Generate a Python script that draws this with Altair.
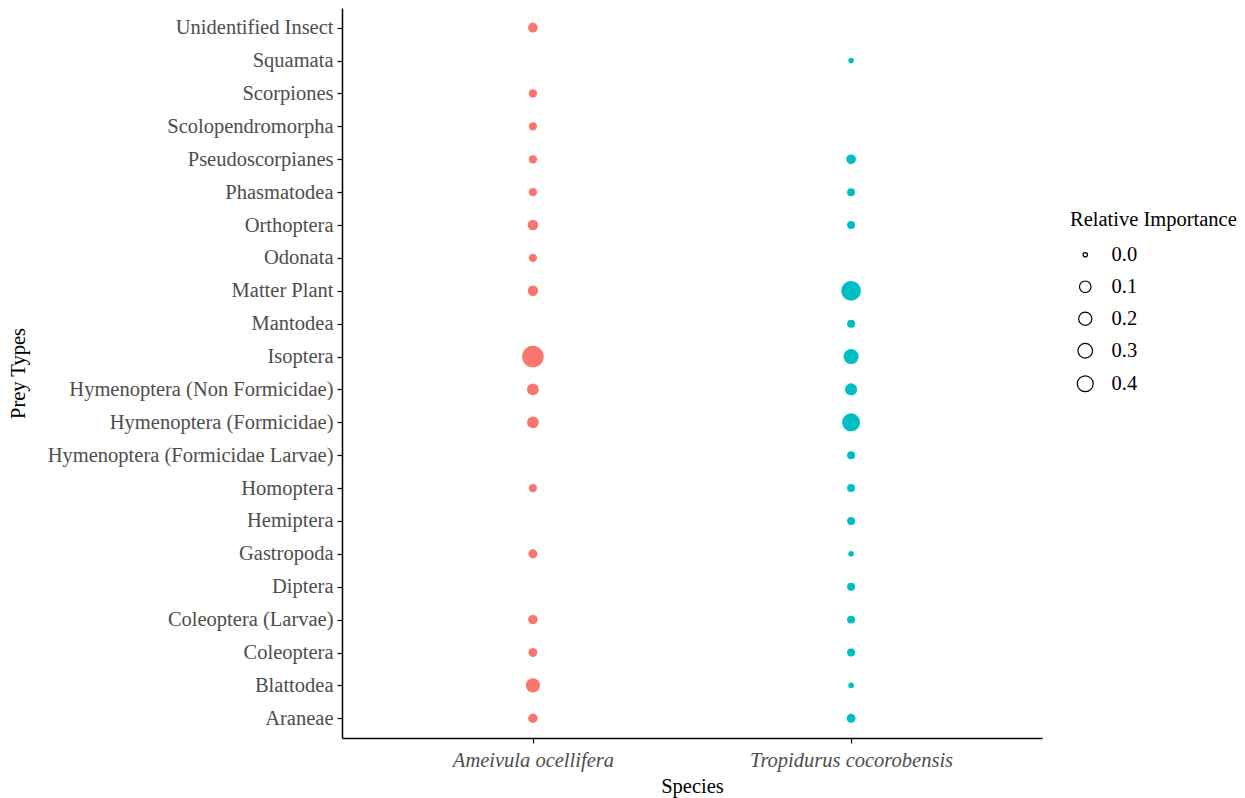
import altair as alt
import pandas as pd

prey = [
    "Unidentified Insect", "Squamata", "Scorpiones", "Scolopendromorpha",
    "Pseudoscorpianes", "Phasmatodea", "Orthoptera", "Odonata", "Matter Plant",
    "Mantodea", "Isoptera", "Hymenoptera (Non Formicidae)", "Hymenoptera (Formicidae)",
    "Hymenoptera (Formicidae Larvae)", "Homoptera", "Hemiptera", "Gastropoda",
    "Diptera", "Coleoptera (Larvae)", "Coleoptera", "Blattodea", "Araneae",
]
species = ["Ameivula ocellifera", "Tropidurus cocorobensis"]
ameivula = [0.066, None, 0.043, 0.043, 0.043, 0.043, 0.082, 0.043, 0.078, None,
            0.85, 0.115, 0.115, None, 0.043, None, 0.056, None, 0.062, 0.052,
            0.269, 0.062]
tropidurus = [None, 0.010, None, None, 0.066, 0.039, 0.039, None, 0.69, 0.039,
              0.333, 0.136, 0.55, 0.039, 0.039, 0.039, 0.010, 0.039, 0.039, 0.039,
              0.010, 0.052]
legend_values = [0.0, 0.1, 0.2, 0.3, 0.4]

rows = []
for sp, vals in zip(species, [ameivula, tropidurus]):
    for p, v in zip(prey, vals):
        if v is not None:
            rows.append({"Species": sp, "Prey": p, "RI": v})
df = pd.DataFrame(rows)

FONT = "Liberation Serif"
FS = 20.5

chart = alt.Chart(df).mark_circle(opacity=1).encode(
    x=alt.X("Species:N", sort=species,
            scale=alt.Scale(type="point", padding=0.6),
            axis=alt.Axis(title="Species", labelAngle=0, labelFontStyle="italic",
                          labelFontSize=FS, labelColor="#4D4D4D", labelFont=FONT,
                          labelPadding=7, tickSize=5, tickColor="black", labelLimit=500,
                          domainColor="black", domainWidth=1.5, tickWidth=1.2,
                          titleFont=FONT, titleFontSize=FS, titleColor="black",
                          titleFontWeight="normal", titlePadding=6)),
    y=alt.Y("Prey:N", sort=prey,
            scale=alt.Scale(type="point", padding=0.6),
            axis=alt.Axis(title="Prey Types", labelFontSize=FS, labelColor="#4D4D4D",
                          labelFont=FONT, labelPadding=4, tickSize=5, tickColor="black",
                          labelLimit=500,
                          domainColor="black", domainWidth=1.5, tickWidth=1.2,
                          titleFont=FONT, titleFontSize=FS, titleColor="black",
                          titleFontWeight="normal", titleX=-314, titleY=365,
                          titleAngle=270, titleAlign="center", titleBaseline="bottom")),
    color=alt.Color("Species:N", sort=species,
                    scale=alt.Scale(domain=species, range=["#F8766D", "#00BFC4"]),
                    legend=None),
    size=alt.Size("RI:Q",
                  scale=alt.Scale(domain=[0, 0.1, 0.4, 0.85],
                                  range=[19.6, 133, 254, 464]),
                  legend=alt.Legend(title="Relative Importance", values=legend_values,
                                    format=".1f", orient="none", legendX=728, legendY=202,
                                    titleFont=FONT, titleFontSize=FS, titleColor="black",
                                    titleFontWeight="normal", titlePadding=14,
                                    titleLimit=400, labelLimit=200,
                                    labelFont=FONT, labelFontSize=FS, labelColor="black",
                                    labelOffset=16, symbolFillColor="transparent",
                                    symbolStrokeColor="black", symbolStrokeWidth=1.2,
                                    symbolOffset=5, rowPadding=11, padding=0)),
).properties(width=700, height=730, padding={"left": 0, "top": 0, "right": 0, "bottom": 2})

chart = chart.configure_view(stroke=None).configure_axis(grid=False)

chart.save("out.html", embed_options={"renderer": "svg", "actions": False})
